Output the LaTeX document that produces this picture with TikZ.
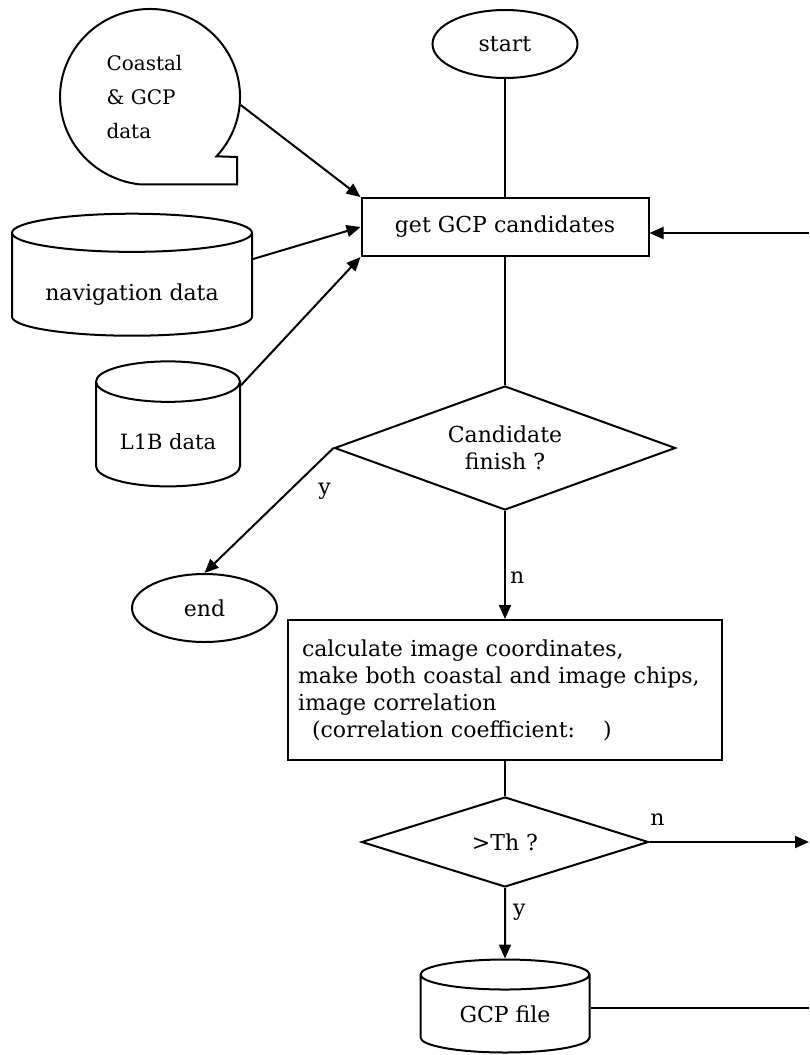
\documentclass[tikz,border=0pt]{standalone}
\usepackage{fontspec}
\setmainfont{DejaVu Serif}
\usetikzlibrary{shapes.geometric,arrows.meta}
\begin{document}
\begin{tikzpicture}[x=0.5pt,y=0.5pt,line width=1pt,
    every node/.style={font=\fontsize{11}{13.5}\selectfont,inner sep=0pt},
    term/.style={draw,ellipse,minimum width=72.5pt,minimum height=34pt},
    proc/.style={draw,rectangle},
    cond/.style={draw,diamond},
    store/.style={draw,cylinder,shape border rotate=90,text depth=0pt},
    small/.style={font=\fontsize{10}{17}\selectfont},
    >={Triangle[length=7pt,width=6pt]}]
  \useasboundingbox (0,0) rectangle (809,-1055);
  \node[term] (start) at (505,-44) {start};
  \node[proc,minimum width=143.5pt,minimum height=29pt] (gcp) at (505,-227) {get GCP candidates};
  \node[cond,aspect=2.75,minimum width=170.5pt,minimum height=62pt,align=center] (cand) at (505,-448) {Candidate\\finish ?};
  \node[term] (end) at (204.5,-608) {end};
  \node[proc,text width=207pt,inner xsep=5pt,minimum height=70pt,align=left] (calc) at (505,-690)
    {\hspace{2pt}calculate image coordinates,\\make both coastal and image chips,\\image correlation\\\hspace{7pt}(correlation coefficient:\hspace{14pt})};
  \node[cond,aspect=3.2,minimum width=143.5pt,minimum height=45pt] (th) at (505,-842) {>Th ?};
  \node[store,aspect=0.33,text height=8.5pt,minimum width=84.5pt,minimum height=46.5pt] (file) at (505,-1014) {GCP file};
  \node[store,aspect=0.22,text height=15.5pt,minimum width=120pt,minimum height=61pt] (nav) at (132,-284.75) {navigation data};
  \node[store,aspect=0.42,text height=15pt,minimum width=72pt,minimum height=62.5pt,font=\fontsize{10.5}{13.5}\selectfont] (l1b) at (168,-434.5) {L1B data};
  \node[ellipse,minimum width=90pt,minimum height=88pt,text width=43.5pt,align=left,small] (cd) at (150,-97) {Coastal\\\& GCP\\data};
  \draw (216.5,-156.3) arc[start angle=-42.4,end angle=263.5,x radius=45pt,y radius=44pt]
    -- (237,-184.4) -- (237,-157) -- cycle;
  \coordinate (r1) at (809,-233);
  \coordinate (r2) at (809,-842);
  \coordinate (r3) at (809,-1008);
  \begin{scope}[->]
    \draw (cd.-5) to (gcp.north west);
    \draw (nav.12) to (gcp.west);
    \draw (l1b.34) to (gcp.south west);
    \draw (r1) to ([yshift=-3pt]gcp.east);
    \draw (cand.west) to node[pos=0.276,anchor=north west,xshift=9.75pt] {y} (end.north);
    \draw (cand.south) to node[pos=0.62,anchor=west,xshift=2pt] {n} (calc.north);
    \draw (th.east) to node[pos=0.05,anchor=south,yshift=8pt] {n} (r2);
    \draw (th.south) to node[pos=0.34,anchor=west,xshift=3.5pt] {y} (file.north);
  \end{scope}
  \begin{scope}[-]
    \draw (start) to (gcp);
    \draw (gcp) to (cand);
    \draw (calc) to (th);
    \draw (r3 -| file.east) to (r3);
  \end{scope}
\end{tikzpicture}
\end{document}
